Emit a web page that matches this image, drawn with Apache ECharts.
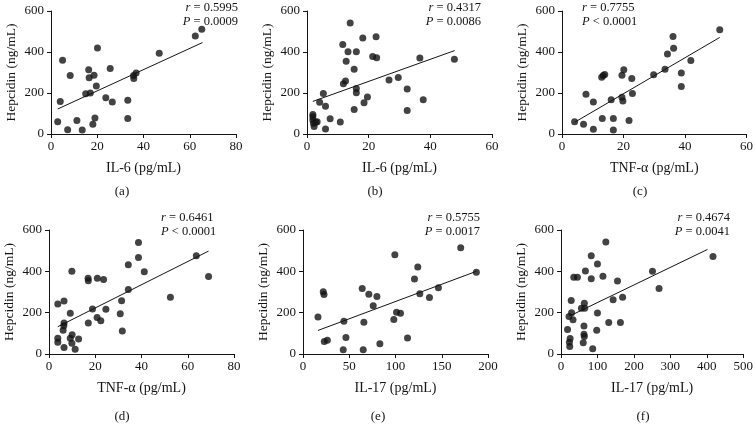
<!DOCTYPE html>
<html>
<head>
<meta charset="utf-8">
<script src="https://cdn.jsdelivr.net/npm/echarts@6/dist/echarts.min.js"></script>
<style>
html,body{margin:0;padding:0;background:#fff;}
#chart{width:756px;height:433px;}
</style>
</head>
<body>
<div id="chart"></div>
<script>
// ---- data ----
const aX = [2.9, 4.0, 5.0, 7.2, 8.3, 11.2, 13.5, 15.0, 16.3, 16.5, 17.0, 18.1, 18.6, 19.0, 19.6, 20.1, 23.7, 25.6, 26.5, 33.2, 33.2, 35.7, 35.8, 36.8, 46.8, 62.4, 65.2];
const aY = [60, 159, 360, 21, 285, 66, 19, 196, 313, 274, 200, 47, 287, 78, 234, 420, 177, 320, 156, 165, 76, 285, 271, 298, 394, 478, 511];

const bX = [1.9, 1.9, 1.9, 2.1, 2.3, 2.9, 3.3, 4.1, 5.3, 6.0, 6.0, 7.5, 10.8, 11.6, 11.8, 12.5, 12.7, 13.3, 14.0, 15.3, 15.3, 16.0, 16.0, 16.0, 18.1, 18.5, 19.6, 21.3, 22.4, 22.6, 26.6, 29.6, 32.5, 32.5, 36.6, 37.7, 47.8];
const bY = [95, 84, 68, 52, 36, 57, 60, 155, 197, 135, 25, 74, 58, 436, 245, 258, 355, 401, 541, 316, 119, 401, 222, 201, 468, 153, 181, 378, 475, 372, 263, 276, 219, 115, 371, 167, 365];

const cX = [4.1, 7.0, 7.8, 10.2, 10.2, 12.9, 13.1, 13.4, 13.9, 16.0, 16.7, 16.7, 19.5, 19.5, 19.8, 20.1, 21.8, 22.7, 22.9, 29.8, 33.5, 34.3, 36.1, 36.3, 38.8, 38.8, 41.9, 51.3];
const cY = [60, 48, 194, 156, 23, 277, 76, 285, 290, 167, 76, 19, 287, 179, 161, 313, 66, 271, 198, 289, 316, 390, 476, 418, 297, 232, 358, 508];

const dX = [3.8, 3.8, 3.8, 6.5, 6.5, 6.1, 6.4, 6.5, 9.2, 9.9, 9.2, 10.0, 9.9, 11.3, 12.8, 16.9, 17.0, 17.0, 18.8, 20.9, 23.6, 20.8, 22.4, 24.6, 30.8, 31.4, 31.7, 34.3, 34.3, 38.7, 38.7, 41.2, 52.5, 63.7, 69.0];
const dY = [242, 76, 57, 257, 31, 115, 137, 150, 197, 400, 76, 93, 52, 23, 72, 367, 354, 150, 218, 367, 361, 177, 161, 216, 195, 258, 111, 312, 432, 467, 540, 398, 275, 475, 375];

const eX = [16.2, 21.9, 22.7, 23.0, 26.3, 44.2, 43.5, 46.4, 64.0, 65.8, 65.1, 71.2, 75.9, 79.9, 83.1, 99.3, 98.2, 101.1, 105.4, 113, 120.5, 124.1, 126.3, 136.7, 146.4, 170.5, 187.4];
const eY = [179, 301, 288, 60, 67, 159, 20, 80, 317, 154, 21, 289, 234, 278, 49, 480, 167, 202, 197, 78, 363, 421, 291, 273, 320, 514, 395];

const fX = [18, 23, 24, 25, 22, 28, 29, 33, 35, 45, 56, 64, 65, 63, 63, 64, 61, 67, 83, 83, 87, 100, 100, 98, 115, 123, 131, 143, 155, 163, 169, 251, 269, 417];
const fY = [119, 57, 36, 75, 182, 259, 200, 166, 371, 371, 221, 245, 221, 135, 96, 85, 55, 402, 476, 364, 26, 436, 198, 115, 376, 542, 153, 263, 353, 153, 275, 400, 317, 472];

// fitted lines (end points)
const fitA = [[2.9, 122], [65.5, 446]];
const fitB = [[1.9, 159], [47.9, 407]];
const fitC = [[4.2, 58], [51.3, 471]];
const fitD = [[3.8, 132], [69.0, 498]];
const fitE = [[16.2, 114], [187.4, 400]];
const fitF = [[25, 185], [402, 506]];

const xNames = ['IL-6 (pg/mL)', 'IL-6 (pg/mL)', 'TNF-\u03b1 (pg/mL)', 'TNF-\u03b1 (pg/mL)', 'IL-17 (pg/mL)', 'IL-17 (pg/mL)'];
const xMax = [80, 60, 60, 80, 200, 500];
const xStep = [20, 20, 20, 20, 50, 100];
const rVals = ['0.5995', '0.4317', '0.7755', '0.6461', '0.5755', '0.4674'];
const pVals = ['= 0.0009', '= 0.0086', '< 0.0001', '< 0.0001', '= 0.0017', '= 0.0041'];
const panelTags = ['(a)', '(b)', '(c)', '(d)', '(e)', '(f)'];

// ---- layout ----
const grids = [
  {left: 51, top: 11, width: 185, height: 123},
  {left: 307, top: 11, width: 185, height: 123},
  {left: 562, top: 11, width: 185, height: 123},
  {left: 49, top: 230, width: 185, height: 124},
  {left: 303, top: 230, width: 185, height: 124},
  {left: 561, top: 230, width: 186, height: 124}
];
// stat text anchor: [x, top of first line, align]
const statPos = [
  [238, 1, 'right'], [481, 1, 'right'], [582, 1, 'left'],
  [161, 211, 'left'], [480, 211, 'right'], [730, 211, 'right']
];
const tagPos = [[122, 192], [375, 192], [640, 192], [122, 417], [378, 417], [643, 417]];

const FONT = '"Liberation Serif", "DejaVu Serif", serif';
const ink = '#141414';
const xsList = [aX, bX, cX, dX, eX, fX];
const ysList = [aY, bY, cY, dY, eY, fY];
const fits = [fitA, fitB, fitC, fitD, fitE, fitF];

const xAxis = [], yAxis = [], series = [], graphic = [];
for (let i = 0; i < 6; i++) {
  xAxis.push({
    gridIndex: i, type: 'value', min: 0, max: xMax[i], interval: xStep[i],
    name: xNames[i], nameLocation: 'middle', nameGap: 27,
    nameTextStyle: {fontFamily: FONT, fontSize: 14, color: ink},
    axisLine: {show: true, lineStyle: {color: ink, width: 1}},
    axisTick: {show: true, length: 4, lineStyle: {color: ink}},
    axisLabel: {fontFamily: FONT, fontSize: 13, color: ink, margin: 6},
    splitLine: {show: false}
  });
  yAxis.push({
    gridIndex: i, type: 'value', min: 0, max: 600, interval: 200,
    name: 'Hepcidin (ng/mL)', nameLocation: 'middle', nameGap: 33,
    nameTextStyle: {fontFamily: FONT, fontSize: 13.5, color: ink},
    axisLine: {show: true, lineStyle: {color: ink, width: 1}},
    axisTick: {show: true, length: 4, lineStyle: {color: ink}},
    axisLabel: {fontFamily: FONT, fontSize: 13, color: ink, margin: 7},
    splitLine: {show: false}
  });
  const pts = xsList[i].map((v, k) => [v, ysList[i][k]]);
  series.push({
    type: 'scatter', xAxisIndex: i, yAxisIndex: i, data: pts,
    symbol: 'circle', symbolSize: 7, itemStyle: {color: ink},
    silent: true, animation: false
  });
  series.push({
    type: 'line', xAxisIndex: i, yAxisIndex: i, data: fits[i],
    symbol: 'none', lineStyle: {color: ink, width: 1}, silent: true, animation: false
  });
  const sp = statPos[i];
  graphic.push({
    type: 'text', x: sp[0], y: sp[1],
    style: {
      text: '{i|r} = ' + rVals[i] + '\n{i|P} ' + pVals[i],
      textAlign: sp[2], align: sp[2], textVerticalAlign: 'top', verticalAlign: 'top',
      font: '12.5px ' + FONT, fill: ink, lineHeight: 14,
      rich: {i: {fontStyle: 'italic', fontFamily: FONT, fontSize: 12.5, fill: ink, color: ink, lineHeight: 14}}
    }
  });
  graphic.push({
    type: 'text', x: tagPos[i][0], y: tagPos[i][1],
    style: {text: panelTags[i], textAlign: 'center', align: 'center',
      textVerticalAlign: 'middle', verticalAlign: 'middle',
      font: '13px ' + FONT, fill: ink}
  });
}

const chart = echarts.init(document.getElementById('chart'), null, {renderer: 'canvas'});
chart.setOption({
  animation: false,
  backgroundColor: '#fff',
  grid: grids,
  xAxis: xAxis,
  yAxis: yAxis,
  series: series,
  graphic: graphic
});
</script>
</body>
</html>
